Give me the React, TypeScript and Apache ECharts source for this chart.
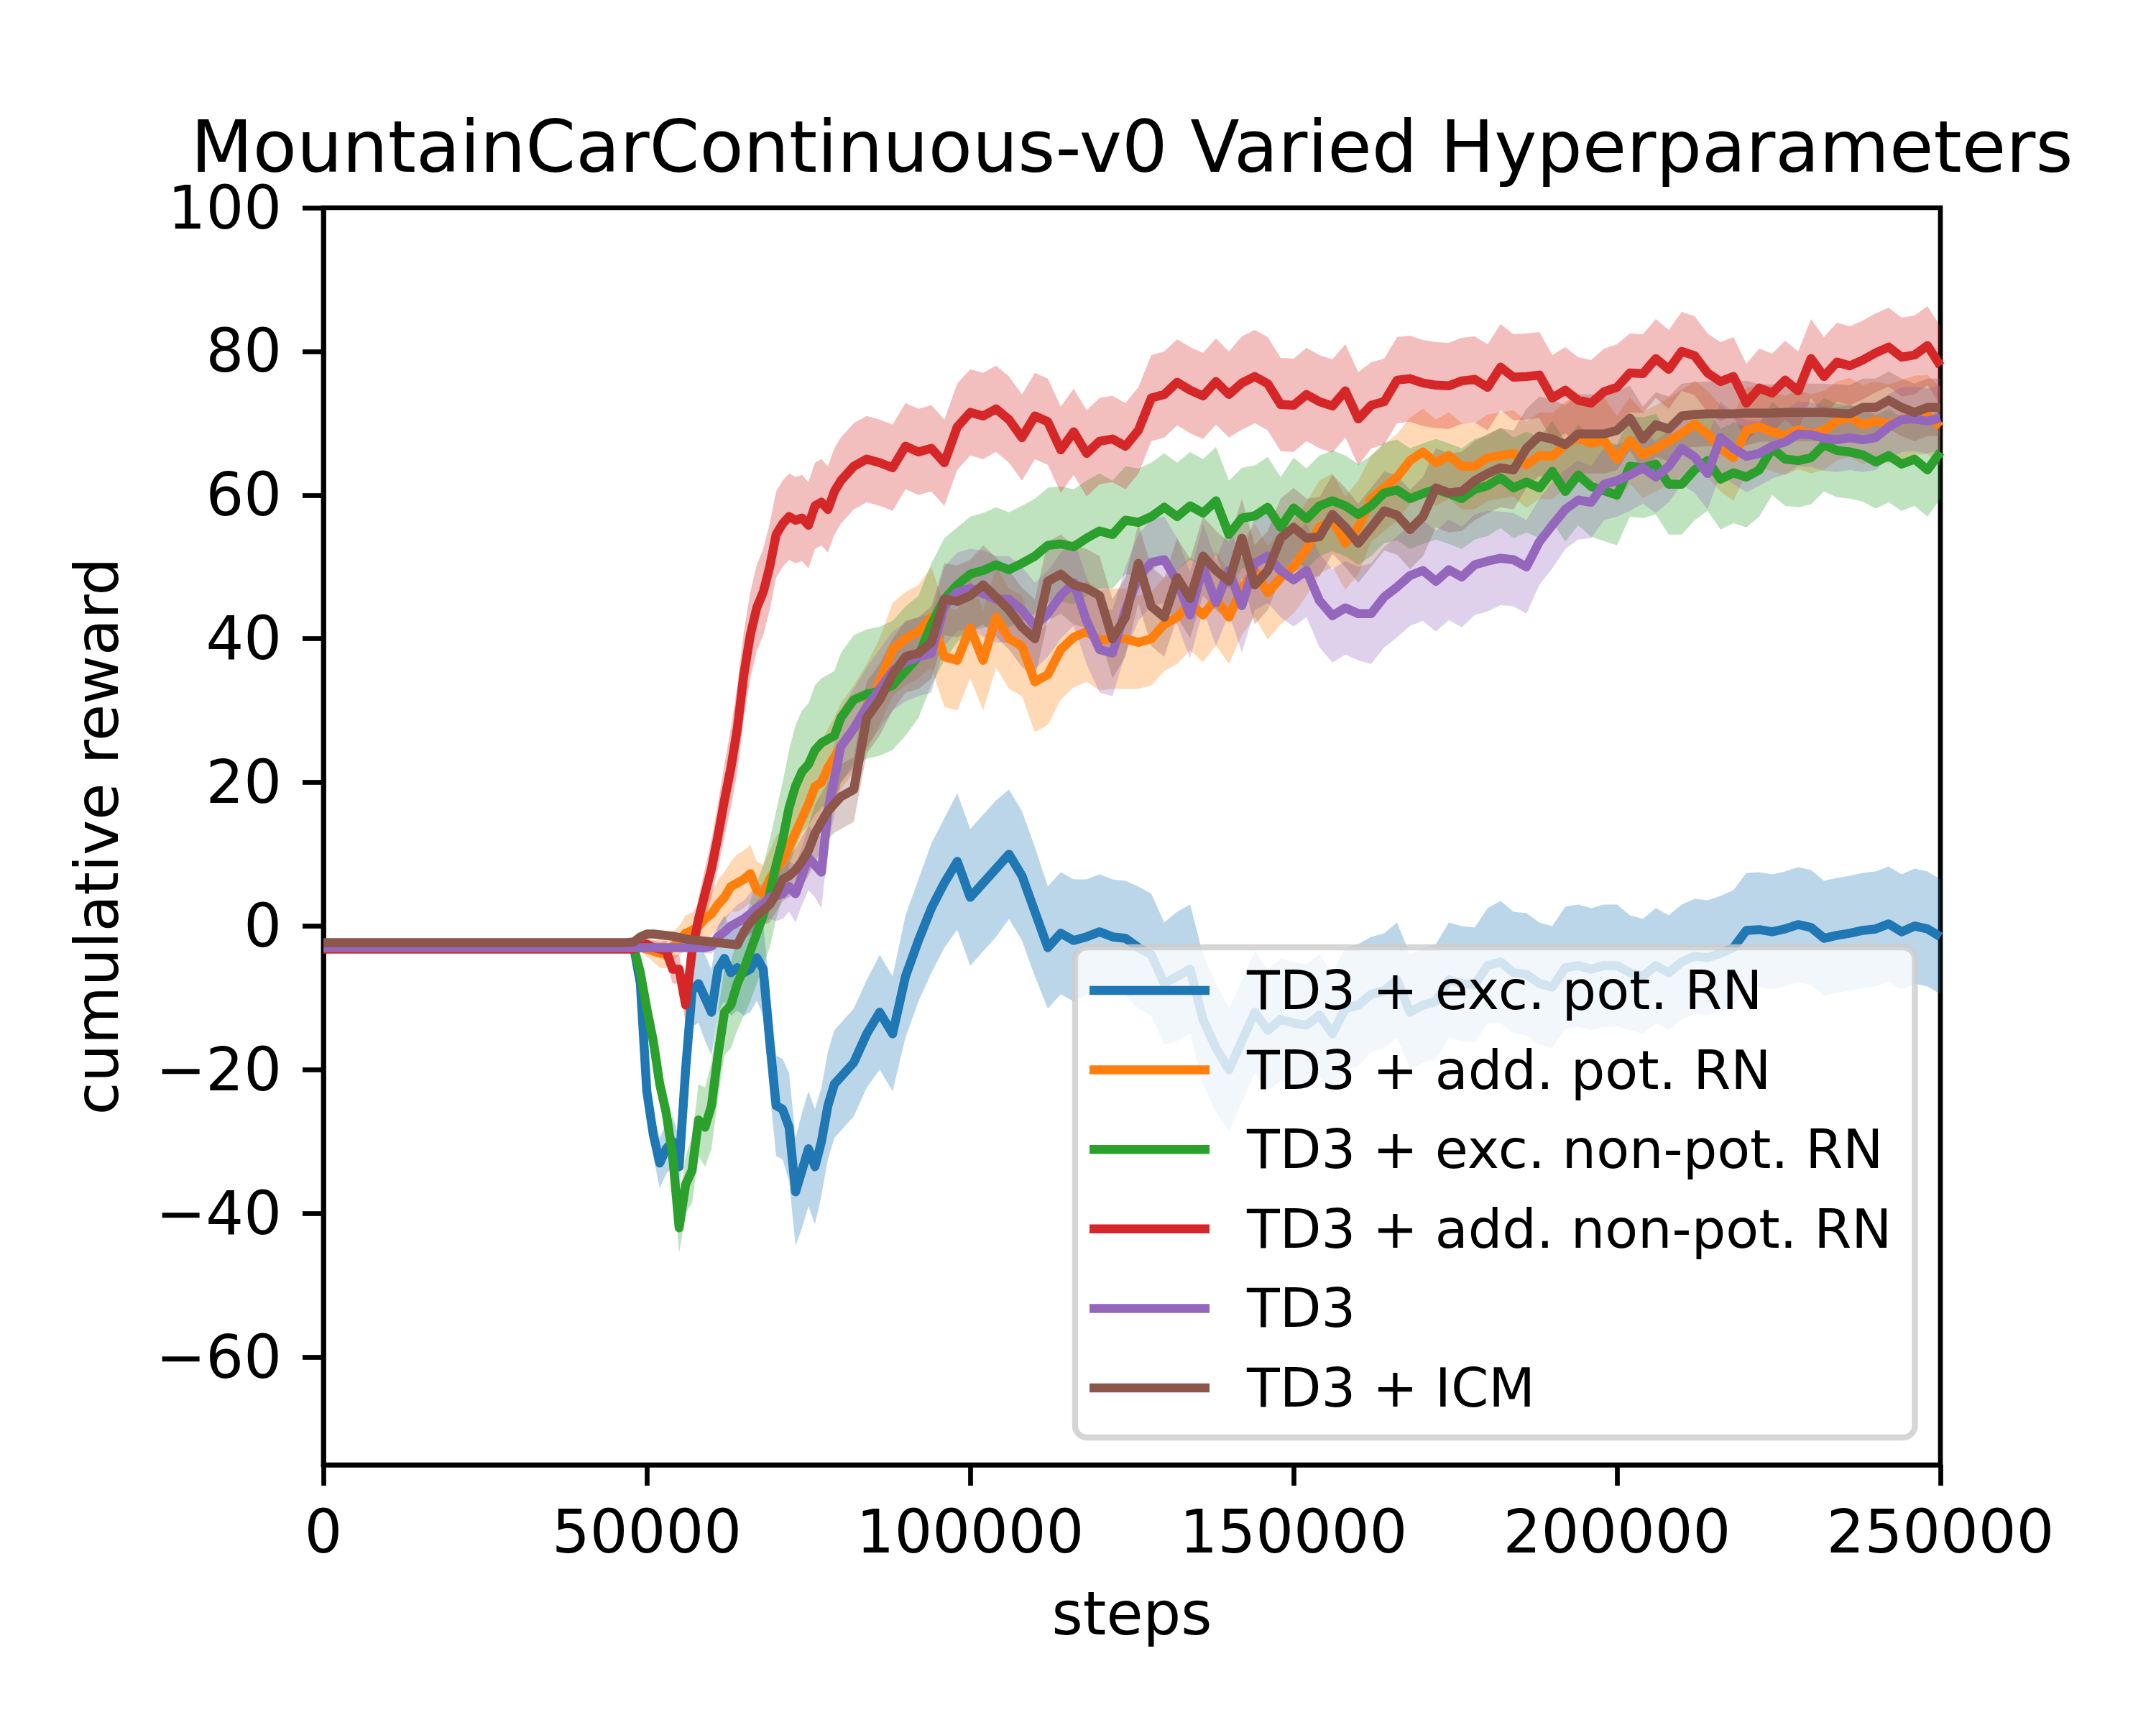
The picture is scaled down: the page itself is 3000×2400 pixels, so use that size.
import React, { useEffect, useRef } from 'react';
import * as echarts from 'echarts';

const FONT = 'DejaVu Sans';

// x positions (environment steps)
const steps = [
  0, 47000, 48000,
  49000, 50000, 51000, 52000, 53000, 54000, 55000, 56000, 57000, 58000,
  59000, 60000, 61000, 62000, 63000, 64000, 65000, 66000, 67000, 68000,
  69000, 70000, 71000, 72000, 73000, 74000, 75000, 76000, 77000, 78000,
  79000, 80000,
  82000, 84000, 86000, 88000, 90000, 92000, 94000, 96000, 98000, 100000,
  102000, 104000, 106000, 108000, 110000, 112000, 114000, 116000, 118000, 120000,
  122000, 124000, 126000, 128000, 130000, 132000, 134000, 136000, 138000, 140000,
  142000, 144000, 146000, 148000, 150000, 152000, 154000, 156000, 158000, 160000,
  162000, 164000, 166000, 168000, 170000, 172000, 174000, 176000, 178000, 180000,
  182000, 184000, 186000, 188000, 190000, 192000, 194000, 196000, 198000, 200000,
  202000, 204000, 206000, 208000, 210000, 212000, 214000, 216000, 218000, 220000,
  222000, 224000, 226000, 228000, 230000, 232000, 234000, 236000, 238000, 240000,
  242000, 244000, 246000, 248000, 250000,
];

const seriesNames = [
  'TD3 + exc. pot. RN',
  'TD3 + add. pot. RN',
  'TD3 + exc. non-pot. RN',
  'TD3 + add. non-pot. RN',
  'TD3',
  'TD3 + ICM',
];
const lineColors = ['#1f77b4', '#ff7f0e', '#2ca02c', '#d62728', '#9467bd', '#8c564b'];
const bandColors = [
  'rgba(31,119,180,0.3)', 'rgba(255,127,14,0.3)', 'rgba(44,160,44,0.3)',
  'rgba(214,39,40,0.3)', 'rgba(148,103,189,0.3)', 'rgba(140,86,75,0.3)',
];

// TD3 + exc. pot. RN
const excPotMean = [
  -3, -3, -3,
  -8, -23, -29, -33, -31, -30, -33.5, -20, -9, -8,
  -10, -12, -6, -4.5, -6.5, -5.8, -6.5, -6, -4.4, -6,
  -16, -25, -25.5, -28, -37, -34, -31, -33.5, -30, -25,
  -22, -21,
  -19, -15, -12, -15, -7, -2, 2.5, 6, 9, 4,
  6, 8, 10, 7, 2, -3, -1, -2, -1.5, -0.8,
  -1.5, -1.7, -3, -4, -8, -7, -6, -13, -17, -20,
  -16, -12, -14.5, -13, -13.5, -13.8, -12.4, -15, -11.5, -11,
  -9.5, -9, -7.5, -12, -11, -10.5, -7.5, -8, -8.2, -5.5,
  -5, -6.5, -6.7, -8, -8.5, -5.8, -5.5, -6, -5.5, -5.5,
  -6.5, -7, -5.5, -6.5, -5, -4.2, -4.4, -3.8, -3, -0.6,
  -0.5, -0.8, -0.4, 0.2, -0.2, -1.7, -1.3, -1, -0.6, -0.4,
  0.3, -0.8, 0, -0.4, -1.5,
];
const excPotSpread = [
  0, 0, 0,
  1.5, 2.5, 3, 3.5, 3.5, 3.5, 4, 4.5, 5, 5.5,
  6, 6, 6, 6, 6, 6, 6, 6, 6, 6.5,
  7, 7, 7, 7.5, 7.5, 8, 8, 8, 7.5, 7.5,
  7.5, 7.5,
  7.5, 7.5, 8, 8, 8.5, 8.5, 9, 9, 9.5, 9.5,
  9.5, 9.5, 9, 9, 9, 8.5, 8.5, 8.5, 8, 8,
  8, 8, 8.5, 8.5, 8.5, 9, 9, 9, 9, 8.5,
  8.5, 8.5, 8.5, 8.5, 8.5, 8.5, 8.5, 8.5, 8.5, 8.5,
  8, 8, 8, 8, 8, 8, 8, 8, 8, 8,
  8.5, 8.5, 8.5, 8.5, 8.5, 8.5, 8.5, 8.5, 8.5, 8.5,
  8, 8, 8, 8, 8, 8, 8, 8, 8, 8,
  8, 8, 8, 8, 8, 8, 8, 8, 8, 8,
  8, 8, 8, 8, 8,
];

// TD3 + add. pot. RN
const addPotMean = [
  -3, -3, -3,
  -3, -3.2, -3.5, -3.8, -3.9, -2.8, -2, -1, -0.6, 0,
  1, 1.7, 3, 4, 5.5, 6, 6.5, 7.3, 5, 4.5,
  6.5, 8, 9, 11, 13, 15, 17, 19.4, 20, 22,
  23.5, 25,
  27.5, 30.5, 34, 38.5, 40, 41, 43, 37.5, 37, 41.5,
  37, 43, 40, 39, 34, 35, 38.5, 40.2, 41, 39.8,
  40, 40, 39.5, 40, 42, 43, 44.9, 43.3, 45.6, 43,
  47, 49.5, 46.4, 48.5, 50, 52.5, 55.5, 56.5, 53.3, 55.5,
  59.5, 61, 62.5, 64.8, 66, 64.5, 65.5, 64, 64, 65.2,
  65.5, 65.8, 64.2, 65.5, 65.4, 67, 68, 67.2, 67.6, 65,
  67.6, 65.6, 66.5, 67.5, 68.6, 69.9, 68.5, 66.5, 65.2, 69,
  69.5, 68.8, 68.3, 69.1, 68.5, 69, 70.3, 70.8, 69.8, 70.3,
  69.9, 70.5, 71.1, 71.2, 69.5,
];
const addPotSpread = [
  0, 0, 0,
  0.5, 1, 1.5, 2, 2, 2, 2, 2.5, 2.5, 3,
  3, 3, 3.5, 3.5, 3.5, 4, 4, 4, 4, 4,
  4, 4.5, 4.5, 5, 5, 5, 5, 5, 5.5, 5.5,
  5.5, 6,
  6, 6, 6, 6.5, 6.5, 6.5, 7, 7, 7, 7,
  7, 7, 7, 7, 7, 7, 7, 7, 7, 7,
  7, 7, 6.5, 6.5, 6.5, 6.5, 6.5, 6.5, 6.5, 6.5,
  6.5, 6.5, 6.5, 6.5, 6.5, 6.5, 6.5, 6.5, 6.5, 6.5,
  6, 6, 6, 6, 6, 6, 6, 6, 6, 6,
  6, 6, 6, 6, 6, 6, 6, 6, 6, 6,
  6, 6, 6, 6, 6, 6, 6, 6, 6, 6,
  5.5, 5.5, 5.5, 5.5, 5.5, 5.5, 5.5, 5.5, 5.5, 5.5,
  5.5, 5.5, 5.5, 5.5, 5.5,
];

// TD3 + exc. non-pot. RN
const excNonPotMean = [
  -3, -3, -3,
  -6.5, -11.5, -16, -22, -26, -32, -42, -36, -34, -27,
  -28, -25, -18, -12, -11, -8, -6, -3.5, -1, 1.5,
  4.5, 8.5, 12, 16.5, 19.5, 21.5, 22.5, 24.5, 25.5, 26,
  26.5, 29,
  31.5, 32.3, 32.7, 33.5, 35.5, 37.5, 42, 45.5, 47.5, 49,
  49.5, 50.3, 49.6, 50.5, 51.5, 53, 53.2, 52.8, 54, 55,
  54.5, 56.5, 56.2, 57, 58.3, 57, 58.5, 57.5, 59.2, 54.5,
  56.8, 57.1, 58.3, 55.5, 58.2, 56.7, 58.5, 59.2, 58.5, 57.3,
  58.5, 60.3, 60.7, 59.5, 60.2, 60.8, 60.2, 59.5, 60.8, 61.3,
  62.4, 61, 61.8, 61, 63.3, 60.5, 62.8, 61.2, 60.6, 60,
  64, 63.8, 64.3, 61.5, 61.5, 63.5, 64.8, 62.2, 63.1, 62.5,
  63.5, 66.5, 65, 64.8, 65.2, 67, 66.2, 66, 65.6, 64.6,
  65.5, 64.3, 65, 63.5, 66,
];
const excNonPotSpread = [
  0, 0, 0,
  1, 1.5, 2, 2.5, 3, 3, 3.5, 4, 4.5, 5,
  5.5, 6, 6, 6, 6, 6.5, 6.5, 7, 7, 7,
  7.5, 7.5, 8, 8, 8.5, 8.5, 8.5, 9, 9, 9,
  9, 9,
  9, 9, 9, 9, 9, 8.5, 8.5, 8.5, 8, 8,
  8, 8, 8, 8, 8, 8, 8, 8, 8, 8,
  7.5, 7.5, 7.5, 7.5, 7.5, 7.5, 7.5, 7.5, 7.5, 7.5,
  7, 7, 7, 7, 7, 7, 7, 7, 7, 7,
  7, 7, 7, 7, 7, 7, 7, 7, 7, 7,
  7, 7, 7, 7, 7, 7, 7, 7, 7, 7,
  7, 7, 7, 7, 7, 7, 7, 7, 7, 7,
  6.5, 6.5, 6.5, 6.5, 6.5, 6.5, 6.5, 6.5, 6.5, 6.5,
  6.5, 6.5, 6.5, 6.5, 6.5,
];

// TD3 + add. non-pot. RN
const addNonPotMean = [
  -3.2, -3.2, -3.2,
  -2.8, -2.5, -3, -3.2, -3.5, -6, -6, -11, -3.5, 1,
  4.5, 8, 12.5, 17.5, 22, 27.5, 35, 40.5, 44.3, 46.5,
  50, 54.5, 56, 57, 56.5, 56.8, 55.8, 58.5, 59, 58,
  60.5, 62,
  64, 65, 64.5, 63.8, 66.8, 66, 66.5, 64.5, 69.5, 71.5,
  71, 72, 70.5, 68, 71, 70.2, 66.3, 68.8, 65.8, 67.5,
  67.8, 66.8, 69, 73.5, 74, 75.7, 74.6, 73.8, 75.8, 74,
  75.6, 76.5, 75.5, 72.6, 72.5, 74, 73, 72.4, 74.5, 70.6,
  72.5, 73, 76, 76.2, 75.6, 75.3, 75.2, 75.9, 76.1, 75,
  77.8, 76.4, 76.5, 76.7, 73.5, 74.6, 73.2, 72.8, 74.4, 75,
  77, 76.9, 79, 77.5, 80, 79.4, 77, 75.8, 76.5, 72.8,
  74.9, 74.2, 76, 74.5, 79, 76.5, 78.5, 78, 78.8, 79.8,
  80.6, 79.2, 79.5, 80.8, 78,
];
const addNonPotSpread = [
  0, 0, 0,
  0.5, 0.8, 1, 1, 1.5, 2, 2, 2.5, 2.5, 3,
  3.5, 4, 4.5, 5, 5.5, 6, 6, 6, 6, 6,
  6, 6, 6, 6, 6, 6, 6, 6, 6, 6,
  6, 6,
  6, 6, 6, 6, 6, 6, 6, 6, 6, 6,
  6, 6, 6, 6, 6, 6, 6, 6, 6, 6,
  6, 6, 6, 6, 6, 6, 6, 6, 6, 6,
  6.5, 6.5, 6.5, 6.5, 6.5, 6.5, 6.5, 6.5, 6.5, 6.5,
  6, 6, 6, 6, 6, 6, 6, 6, 6, 6,
  6, 6, 6, 6, 6, 6, 6, 6, 6, 6,
  5.5, 5.5, 5.5, 5.5, 5.5, 5.5, 5.5, 5.5, 5.5, 5.5,
  5.5, 5.5, 5.5, 5.5, 5.5, 5.5, 5.5, 5.5, 5.5, 5.5,
  5.5, 5.5, 5.5, 5.5, 5.5,
];

// TD3
const td3Mean = [
  -3, -3, -3,
  -3, -3, -3, -3, -3, -3, -3, -3, -3, -3,
  -3, -2.8, -1.5, -0.8, 0, 0.5, 1, 1.7, 2.5, 3,
  4, 4.2, 4.5, 5.5, 4.5, 7, 9.5, 8.5, 7.5, 16,
  20.5, 25,
  27.5, 30.5, 33, 35.5, 36.8, 37.5, 38, 44.5, 46.5, 47,
  46.3, 45.5, 45.5, 44, 41.8, 43.5, 46, 47.8, 42.5, 38.5,
  38, 44, 48.5, 50.6, 51, 48, 43.3, 50, 45, 49.5,
  44.6, 50.5, 51.5, 49.5, 48.2, 49.5, 45.3, 43.2, 44.3, 43.5,
  43.5, 45.8, 47.2, 48.8, 49.5, 48, 49.6, 48.6, 50.3, 50.8,
  51.2, 51, 50, 53.5, 55.8, 58, 59.3, 59, 61.5, 62,
  62.8, 63.8, 62.5, 64, 66.5, 65.3, 63, 68, 66.5, 65.4,
  65.8, 66.8, 67.4, 68.5, 68.4, 67.9, 67.7, 68, 67.7, 68,
  69.5, 70.5, 70.6, 70.3, 70.7,
];
const td3Spread = [
  0, 0, 0,
  0.3, 0.3, 0.3, 0.3, 0.3, 0.3, 0.3, 0.3, 0.3, 0.5,
  0.8, 1, 1.5, 2, 2, 2.5, 2.5, 3, 3, 3,
  3, 3.5, 3.5, 3.5, 4, 4, 4.5, 4.5, 5, 5,
  5, 5,
  5.5, 5.5, 5.5, 5.5, 5.5, 5.5, 5.5, 5.5, 5.5, 5.5,
  6, 6, 6, 6, 6, 6, 6, 6, 6, 6,
  6, 6, 6, 6, 6, 6, 6, 6, 6, 6,
  6.5, 6.5, 6.5, 6.5, 6.5, 6.5, 6.5, 6.5, 6.5, 6.5,
  7, 7, 7, 7, 7, 7, 7, 7, 7, 7,
  6.5, 6.5, 6.5, 6, 6, 5.5, 5.5, 5, 5, 5,
  5, 5, 5, 5, 5, 5, 5, 5, 5, 5,
  4.5, 4.5, 4.5, 4.5, 4.5, 4.5, 4.5, 4.5, 4.5, 4.5,
  4.5, 4.5, 4.5, 4.5, 4.5,
];

// TD3 + ICM
const icmMean = [
  -2.3, -2.3, -2.2,
  -1.5, -1.1, -1.1, -1.2, -1.3, -1.4, -1.6, -1.8, -1.9, -2,
  -2.1, -2.2, -2.3, -2.4, -2.5, -2.6, -0.8, 0.5, 1.5, 2.2,
  3, 4.5, 6.5, 7, 7.8, 9, 10.5, 12.9, 14.5, 16,
  17, 18,
  19, 29, 31.5, 35, 37.5, 38, 39.5, 45.5, 45.2, 46,
  47.5, 45.8, 44, 41.6, 40, 48, 49, 47.5, 47, 46,
  40, 43, 50.5, 44.5, 43, 48.5, 45.6, 51.5, 49.5, 48,
  54, 47.5, 49.5, 54, 55.5, 54, 54.2, 57.3, 55.5, 53.3,
  55.5, 57.8, 57.2, 55.2, 57, 61, 60.3, 60.5, 62, 63,
  63.8, 63.5, 66.5, 68.2, 67.8, 67, 68.5, 68.5, 68.5, 69,
  70.7, 67.8, 69.8, 69.2, 71, 71.2, 71.3, 71.3, 71.3, 71.4,
  71.4, 71.4, 71.5, 71.5, 71.5, 71.5, 71.4, 71.3, 72.2, 72.2,
  73.2, 72.2, 71.5, 72.2, 72.2,
];
const icmSpread = [
  0, 0, 0,
  0.3, 0.3, 0.3, 0.3, 0.3, 0.3, 0.3, 0.3, 0.3, 0.3,
  0.3, 0.3, 0.3, 0.3, 0.3, 0.5, 1, 1.5, 2, 2,
  2.5, 2.5, 3, 3, 3, 3.5, 3.5, 4, 4, 4,
  4, 4.5,
  4.5, 5, 5, 5, 5, 5, 5, 5, 5, 5,
  5.5, 5.5, 5.5, 5.5, 5.5, 5.5, 5.5, 5.5, 5.5, 5.5,
  5.5, 5.5, 5.5, 5.5, 5.5, 5.5, 5.5, 5.5, 5.5, 5.5,
  5.5, 5.5, 5.5, 5.5, 5.5, 5.5, 5.5, 5.5, 5.5, 5.5,
  5.5, 5.5, 5.5, 5.5, 5.5, 5.5, 5.5, 5.5, 5.5, 5.5,
  5.5, 5.5, 5.5, 5.5, 5.5, 5.5, 5.5, 5.5, 5.5, 5.5,
  4.5, 4.5, 4.5, 4.5, 4.5, 4.5, 4.5, 4.5, 4.5, 4.5,
  4, 4, 4, 4, 4, 4, 4, 4, 4, 4,
  4, 4, 4, 4, 4,
];

const means = [excPotMean, addPotMean, excNonPotMean, addNonPotMean, td3Mean, icmMean];
const spreads = [excPotSpread, addPotSpread, excNonPotSpread, addNonPotSpread, td3Spread, icmSpread];

const yTicks = [-60, -40, -20, 0, 20, 40, 60, 80, 100];
const titleText = 'MountainCarContinuous-v0 Varied Hyperparameters';

const fmtY = (v: number) => (v < 0 ? '\u2212' + Math.abs(v) : String(v));

function buildOption() {
  const series: any[] = [];
  means.forEach((mean, i) => {
    const spread = spreads[i];
    series.push({
      type: 'line',
      name: seriesNames[i],
      data: steps.map((s, j) => [s, mean[j]]),
      showSymbol: false,
      symbol: 'none',
      color: lineColors[i],
      itemStyle: { color: lineColors[i] },
      lineStyle: { color: lineColors[i], width: 12.5, join: 'round', cap: 'butt' },
      silent: true,
      z: 2,
    });
    const bandData = steps.map((s, j) => [s, mean[j] - spread[j], mean[j] + spread[j]]);
    series.push({
      type: 'custom',
      name: 'band-' + i,
      data: bandData,
      encode: { x: 0, y: [1, 2] },
      silent: true,
      clip: true,
      z: 2,
      renderItem: (params: any, api: any) => {
        if (params.dataIndex !== 0) return null;
        const upper = bandData.map((d) => api.coord([d[0], d[2]]));
        const lower = bandData.map((d) => api.coord([d[0], d[1]])).reverse();
        return {
          type: 'polygon',
          shape: { points: upper.concat(lower) },
          style: { fill: bandColors[i], stroke: null },
        };
      },
    });
  });

  return {
    animation: false,
    backgroundColor: '#ffffff',
    title: {
      text: titleText,
      left: 1575,
      top: 164,
      textAlign: 'center',
      padding: 0,
      textStyle: { fontFamily: FONT, fontSize: 100, fontWeight: 'normal', color: '#000', lineHeight: 80 },
    },
    grid: {
      left: 450, top: 289, width: 2250, height: 1749,
      show: true, borderColor: '#000', borderWidth: 6.7, backgroundColor: 'transparent',
    },
    legend: {
      data: seriesNames,
      orient: 'vertical',
      left: 1496,
      top: 1318,
      padding: [22.5, 32, 31.5, 20],
      itemGap: 35.6,
      itemWidth: 214,
      itemHeight: 12.5,
      icon: 'path://M0 0H167V12.5H0Z M214 0L214 12.5',
      symbolKeepAspect: false,
      itemStyle: { borderWidth: 0 },
      selectedMode: false,
      textStyle: { fontFamily: FONT, fontSize: 75, color: '#000', lineHeight: 75 },
      backgroundColor: 'rgba(255,255,255,0.8)',
      borderColor: 'rgba(204,204,204,0.8)',
      borderWidth: 8.3,
      borderRadius: 16.6,
    },
    xAxis: {
      type: 'value',
      min: 0,
      max: 250000,
      interval: 50000,
      name: 'steps',
      nameLocation: 'middle',
      nameGap: 165.5,
      nameTextStyle: { fontFamily: FONT, fontSize: 83, color: '#000', lineHeight: 83 },
      axisLine: { show: true, onZero: false, lineStyle: { color: '#000', width: 6.7 } },
      axisTick: { show: true, length: 29, lineStyle: { color: '#000', width: 6.7 } },
      axisLabel: {
        fontFamily: FONT, fontSize: 83, color: '#000', margin: 52, lineHeight: 83,
        formatter: (v: number) => String(v),
      },
      splitLine: { show: false },
    },
    yAxis: {
      type: 'value',
      min: -75,
      max: 100,
      name: 'cumulative reward',
      nameLocation: 'middle',
      nameRotate: 90,
      nameGap: 273.5,
      nameTextStyle: { fontFamily: FONT, fontSize: 83, color: '#000', lineHeight: 83 },
      axisLine: { show: true, onZero: false, lineStyle: { color: '#000', width: 6.7 } },
      axisTick: { show: true, length: 29, customValues: yTicks, lineStyle: { color: '#000', width: 6.7 } },
      axisLabel: {
        fontFamily: FONT, fontSize: 83, color: '#000', margin: 58, lineHeight: 70,
        customValues: yTicks,
        formatter: fmtY,
      },
      splitLine: { show: false },
    },
    series,
  };
}

export default function App() {
  const ref = useRef<HTMLDivElement>(null);
  useEffect(() => {
    if (!ref.current) return;
    const chart = echarts.init(ref.current, undefined, { renderer: 'svg' });
    chart.setOption(buildOption() as any);
    return () => chart.dispose();
  }, []);
  return (
    <div
      ref={ref}
      style={{ position: 'absolute', left: 0, top: 0, width: 3000, height: 2400, background: '#fff' }}
    />
  );
}
